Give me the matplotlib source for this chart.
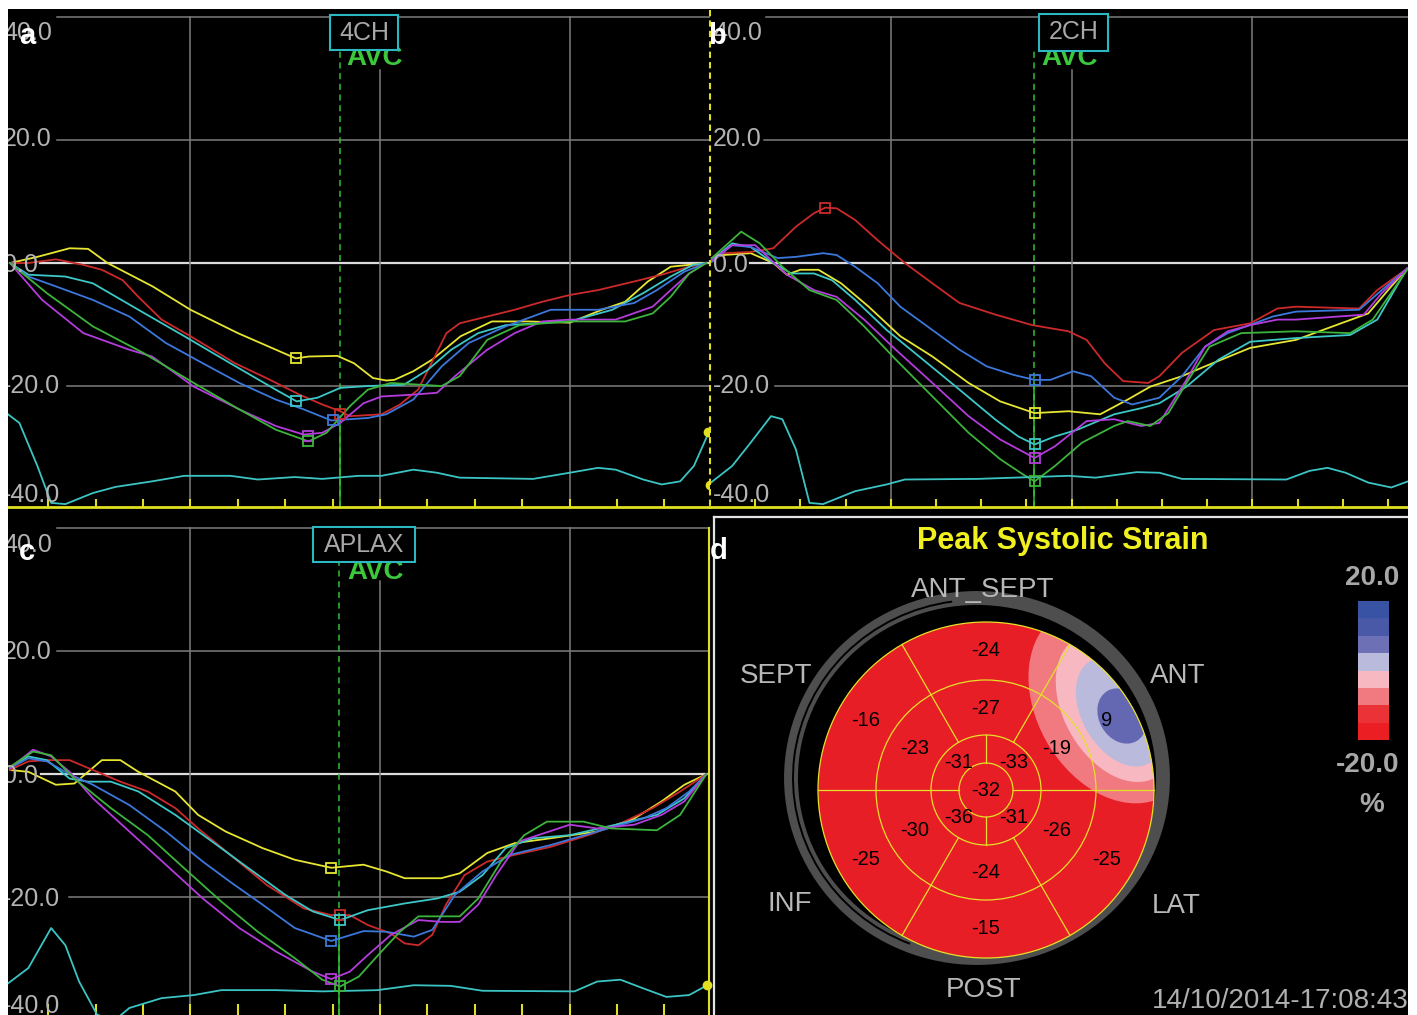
import numpy as np
import matplotlib
matplotlib.use("Agg")
import matplotlib.pyplot as plt
from matplotlib.patches import Rectangle, Circle, Ellipse, Arc
from matplotlib.lines import Line2D
from matplotlib.colors import ListedColormap, BoundaryNorm
from matplotlib.cm import ScalarMappable

plt.rcParams['font.family'] = ['Liberation Sans', 'DejaVu Sans']

W, H = 1417, 1015

# ---------------- panel a : 4CH (x in frame ticks, y in strain %) ----------------
a_yel_t = [0.19, 0.77, 1.45, 1.84, 2.25, 3.2, 4.0, 5.0, 6.22, 6.5, 7.1, 7.45, 7.85, 8.13, 8.3, 8.7, 9.1, 9.7, 10.36, 11.13, 12.0, 12.68, 13.17, 13.65, 14.13, 14.52, 14.88]
a_yel_v = [0.0, 1.0, 2.4, 2.3, 0.0, -3.8, -7.6, -11.4, -15.5, -15.2, -15.1, -16.3, -18.7, -19.1, -19.0, -17.6, -15.7, -11.9, -9.5, -9.5, -9.7, -7.6, -6.3, -3.0, -0.6, -0.3, 0.0]
a_red_t = [0.19, 0.58, 1.16, 1.74, 2.13, 2.57, 2.9, 3.39, 4.0, 4.94, 5.6, 6.3, 6.78, 7.16, 7.36, 8.03, 8.42, 8.8, 9.05, 9.4, 9.68, 10.26, 10.84, 11.42, 12.0, 12.6, 13.36, 13.94, 14.52, 14.88]
a_red_v = [0.0, 0.0, 0.6, -0.3, -1.1, -2.8, -5.5, -9.2, -11.9, -16.3, -18.7, -21.4, -23.0, -24.1, -24.9, -24.6, -23.0, -20.6, -16.8, -11.4, -9.8, -8.7, -7.6, -6.3, -5.2, -4.4, -3.0, -1.9, -0.6, 0.0]
a_cyn_t = [0.19, 0.58, 1.36, 1.94, 2.9, 3.87, 4.84, 5.8, 6.24, 6.68, 7.16, 7.74, 8.5, 9.0, 9.5, 10.07, 10.65, 11.33, 12.0, 12.9, 13.55, 14.13, 14.6, 14.88]
a_cyn_v = [0.0, -1.9, -2.2, -3.3, -7.6, -11.9, -16.3, -20.6, -22.5, -21.9, -20.3, -20.0, -19.8, -17.4, -14.1, -11.4, -10.1, -9.8, -9.5, -7.6, -4.9, -2.2, -0.3, 0.0]
a_blu_t = [0.19, 0.58, 1.16, 1.94, 2.71, 3.48, 4.26, 5.03, 5.8, 6.39, 6.97, 7.74, 8.13, 8.7, 9.3, 9.87, 10.65, 11.6, 12.6, 13.36, 13.84, 14.42, 14.88]
a_blu_v = [0.0, -2.2, -3.8, -6.0, -8.7, -13.0, -16.3, -19.5, -22.2, -23.8, -25.6, -25.2, -24.6, -22.2, -16.8, -13.0, -10.3, -7.6, -7.6, -6.5, -4.4, -1.4, 0.0]
a_mag_t = [0.19, 0.87, 1.74, 2.71, 3.19, 4.07, 5.03, 5.8, 6.39, 6.78, 7.16, 7.65, 8.03, 8.7, 9.2, 9.58, 10.26, 10.84, 11.42, 12.0, 12.97, 13.75, 14.13, 14.52, 14.88]
a_mag_v = [0.0, -6.0, -11.4, -14.1, -15.2, -20.1, -23.8, -26.5, -27.9, -27.6, -26.0, -22.8, -21.7, -21.4, -21.1, -18.4, -14.1, -11.4, -9.5, -9.2, -9.2, -7.1, -4.4, -1.7, 0.0]
a_grn_t = [0.19, 0.97, 1.94, 3.0, 4.07, 5.03, 5.8, 6.49, 6.87, 7.36, 7.74, 8.23, 9.3, 9.68, 10.26, 10.94, 12.0, 13.17, 13.75, 14.13, 14.52, 14.88]
a_grn_v = [0.0, -4.9, -10.3, -14.6, -19.5, -23.8, -27.1, -29.0, -27.6, -23.3, -20.6, -19.5, -20.0, -18.4, -12.5, -10.1, -9.5, -9.5, -8.2, -5.5, -1.7, 0.0]
a_ecg_t = [0.15, 0.39, 0.77, 1.06, 1.36, 1.94, 2.42, 3.19, 3.87, 4.84, 5.42, 6.2, 6.78, 7.55, 8.03, 8.7, 9.2, 9.68, 11.23, 12.0, 12.6, 12.97, 13.55, 13.94, 14.33, 14.62, 14.93]
a_ecg_v = [-24.6, -26.0, -33.0, -39.0, -39.2, -37.4, -36.4, -35.5, -34.6, -34.6, -35.2, -34.8, -35.1, -34.6, -34.6, -33.6, -34.1, -34.9, -35.1, -34.1, -33.3, -33.6, -35.2, -36.0, -35.5, -33.0, -27.6]
# peak markers: yellow, red, cyan, blue, magenta, green
a_peak_t = [6.22, 7.16, 6.22, 7.0, 6.47, 6.47]
a_peak_v = [-15.5, -24.6, -22.5, -25.6, -28.1, -29.0]

# ---------------- panel b : 2CH ----------------
b_yel_t = [0.04, 0.29, 0.9, 1.4, 1.7, 2.0, 2.4, 2.9, 3.51, 4.21, 4.92, 5.72, 6.42, 7.18, 7.93, 8.63, 9.24, 9.74, 10.44, 10.95, 11.95, 12.96, 13.96, 14.56, 15.07, 15.42]
b_yel_v = [0.8, 1.3, 1.6, 0.0, -1.9, -1.1, -1.1, -3.3, -7.1, -11.9, -15.2, -19.5, -22.5, -24.4, -24.1, -24.6, -22.2, -20.1, -18.4, -16.8, -13.8, -12.5, -9.8, -8.2, -3.8, -0.9]
b_red_t = [0.04, 0.29, 0.9, 1.4, 1.9, 2.3, 2.55, 2.8, 3.21, 3.71, 4.31, 4.92, 5.52, 6.32, 7.13, 7.93, 8.33, 8.73, 9.14, 9.69, 9.94, 10.44, 11.15, 11.95, 12.55, 12.96, 14.36, 14.76, 15.42]
b_red_v = [0.2, 1.6, 1.8, 2.4, 5.9, 8.1, 9.0, 8.9, 7.0, 3.7, 0.0, -3.3, -6.5, -8.4, -10.1, -11.1, -12.5, -16.3, -19.2, -19.5, -18.4, -14.6, -10.9, -9.8, -7.4, -7.1, -7.4, -4.4, -0.9]
b_cyn_t = [0.04, 0.49, 0.9, 1.4, 1.8, 2.3, 2.7, 3.21, 3.91, 4.71, 5.52, 6.32, 6.82, 7.18, 7.63, 8.13, 8.94, 9.54, 9.94, 10.54, 11.25, 11.95, 12.96, 14.16, 14.76, 15.42]
b_cyn_v = [0.5, 3.2, 2.6, 0.0, -1.7, -1.7, -2.8, -6.0, -10.9, -15.7, -20.6, -25.5, -28.2, -29.5, -28.2, -27.1, -24.6, -23.6, -22.8, -20.1, -15.7, -12.8, -12.2, -11.7, -9.2, -0.9]
b_blu_t = [0.04, 0.49, 0.9, 1.5, 1.9, 2.5, 2.8, 3.21, 3.71, 4.21, 4.92, 5.52, 6.12, 6.72, 7.18, 7.53, 8.03, 8.43, 8.94, 9.34, 9.94, 10.44, 10.95, 11.45, 12.45, 12.96, 14.36, 14.86, 15.42]
b_blu_v = [0.2, 2.9, 2.6, 0.8, 1.0, 1.6, 1.3, -0.6, -3.3, -7.1, -10.9, -14.1, -16.8, -18.2, -19.0, -19.0, -17.6, -18.4, -21.9, -23.0, -21.9, -18.4, -13.6, -11.4, -8.7, -7.9, -7.6, -4.4, -0.9]
b_mag_t = [0.04, 0.49, 1.0, 1.7, 2.3, 2.8, 3.41, 4.11, 4.92, 5.72, 6.42, 7.18, 7.63, 8.33, 8.94, 9.54, 9.94, 10.54, 10.95, 11.45, 11.95, 12.55, 12.96, 14.46, 14.86, 15.42]
b_mag_v = [0.5, 2.9, 2.9, -1.9, -4.4, -5.5, -9.2, -14.1, -19.5, -24.9, -28.7, -31.7, -29.8, -25.7, -25.4, -26.5, -26.0, -19.0, -13.6, -11.1, -10.1, -9.2, -9.2, -8.4, -4.9, -0.9]
b_grn_t = [0.04, 0.69, 1.1, 1.6, 2.2, 2.8, 3.41, 4.11, 4.92, 5.72, 6.42, 6.93, 7.18, 7.63, 8.23, 8.94, 9.24, 9.74, 10.14, 10.54, 11.05, 11.75, 12.96, 14.16, 14.66, 15.42]
b_grn_v = [0.8, 5.1, 3.2, -0.6, -4.4, -6.0, -10.3, -15.7, -21.7, -27.6, -31.9, -34.4, -35.5, -33.0, -29.2, -26.5, -25.7, -26.5, -24.4, -19.5, -13.6, -11.4, -11.1, -11.4, -9.2, -1.1]
b_ecg_t = [0.02, 0.49, 0.9, 1.35, 1.6, 1.9, 2.2, 2.5, 3.21, 3.91, 4.31, 5.92, 7.93, 8.53, 9.44, 9.94, 10.44, 12.75, 13.26, 13.66, 14.06, 14.56, 15.07, 15.44]
b_ecg_v = [-35.7, -33.0, -29.2, -24.9, -25.4, -30.3, -39.0, -39.2, -37.1, -36.0, -35.2, -35.1, -34.6, -34.9, -34.0, -34.1, -35.1, -35.2, -33.8, -33.3, -34.1, -35.7, -36.5, -35.5]
b_peak_t = [7.18, 2.55, 7.18, 7.18, 7.18, 7.18]
b_peak_v = [-24.4, 9.0, -29.5, -19.0, -31.7, -35.5]

# ---------------- panel c : APLAX ----------------
c_yel_t = [0.19, 0.58, 1.16, 1.55, 2.13, 2.52, 2.9, 3.68, 4.16, 4.74, 5.52, 6.2, 6.97, 7.65, 8.13, 8.52, 9.29, 9.68, 10.26, 10.84, 11.6, 12.58, 13.36, 13.94, 14.42, 14.88]
c_yel_v = [0.7, 0.4, -1.7, -1.5, 2.3, 2.3, 0.4, -2.8, -6.6, -9.3, -12.0, -13.9, -15.2, -14.7, -15.8, -16.9, -16.9, -16.1, -12.8, -11.2, -10.4, -9.3, -7.2, -4.4, -1.7, 0.0]
c_red_t = [0.19, 0.58, 0.97, 1.45, 1.94, 2.52, 3.1, 3.68, 4.16, 4.84, 5.61, 6.39, 6.97, 7.36, 7.74, 8.23, 8.52, 8.81, 9.1, 9.39, 9.78, 10.26, 10.84, 11.6, 12.39, 13.07, 13.75, 14.33, 14.88]
c_red_v = [0.7, 2.1, 2.3, 2.3, 0.7, -1.2, -2.8, -5.5, -8.8, -13.1, -18.0, -21.8, -22.9, -22.9, -24.5, -25.9, -27.5, -27.8, -26.1, -21.2, -16.4, -14.2, -13.1, -11.8, -9.9, -8.0, -5.5, -2.8, 0.0]
c_cyn_t = [0.19, 0.58, 0.97, 1.45, 1.84, 2.32, 2.9, 3.68, 4.45, 5.23, 6.0, 6.58, 7.16, 7.74, 8.52, 9.2, 9.68, 10.16, 10.65, 11.23, 12.0, 12.97, 13.84, 14.42, 14.88]
c_cyn_v = [1.0, 2.9, 2.3, -0.7, -1.2, -1.2, -2.8, -6.6, -10.9, -15.3, -19.6, -22.3, -23.7, -22.1, -21.0, -20.2, -19.1, -16.4, -12.0, -10.4, -9.9, -8.2, -6.6, -3.9, 0.0]
c_blu_t = [0.19, 0.58, 0.97, 1.45, 1.94, 2.71, 3.48, 4.26, 4.84, 5.52, 6.2, 6.97, 7.65, 8.13, 8.71, 9.1, 9.58, 10.16, 10.74, 11.6, 12.58, 13.55, 14.04, 14.52, 14.88]
c_blu_v = [1.0, 2.6, 2.1, 0.0, -1.7, -5.0, -9.3, -14.2, -17.5, -21.2, -25.0, -27.1, -25.5, -25.6, -26.4, -25.3, -19.6, -15.8, -13.1, -11.5, -9.3, -7.2, -5.5, -2.8, 0.0]
c_mag_t = [0.19, 0.68, 1.06, 1.45, 1.94, 2.71, 3.48, 4.26, 5.03, 5.8, 6.58, 6.97, 7.36, 7.74, 8.23, 8.81, 9.29, 9.68, 10.07, 10.45, 10.94, 12.0, 12.58, 13.36, 13.94, 14.42, 14.88]
c_mag_v = [1.0, 4.0, 2.9, 0.4, -3.9, -9.3, -14.7, -20.2, -25.0, -28.8, -32.1, -33.3, -32.1, -29.4, -26.1, -23.7, -24.0, -24.0, -21.2, -16.4, -10.9, -8.2, -8.8, -8.2, -6.6, -4.4, 0.0]
c_grn_t = [0.19, 0.68, 1.06, 1.55, 2.32, 3.1, 3.87, 4.65, 5.42, 6.2, 6.78, 7.16, 7.55, 8.03, 8.42, 8.81, 9.68, 10.07, 10.55, 11.04, 11.52, 12.29, 12.87, 13.84, 14.33, 14.88]
c_grn_v = [1.2, 3.7, 3.1, -0.7, -5.5, -9.9, -15.3, -20.7, -25.6, -29.9, -33.4, -34.5, -32.9, -28.8, -25.6, -23.1, -23.1, -20.2, -14.2, -9.9, -7.7, -7.7, -8.8, -9.1, -6.6, 0.0]
c_ecg_t = [0.15, 0.58, 1.06, 1.36, 1.65, 2.03, 2.4, 2.71, 3.39, 4.07, 4.65, 5.8, 6.78, 7.94, 8.71, 9.49, 10.16, 12.1, 12.58, 13.07, 13.55, 14.04, 14.52, 14.9]
c_ecg_v = [-34.0, -31.5, -25.0, -27.8, -33.7, -39.1, -40.0, -38.0, -36.4, -35.9, -35.1, -35.1, -35.3, -35.1, -34.3, -34.4, -35.2, -35.3, -33.7, -33.4, -34.8, -36.2, -35.9, -34.3]
c_peak_t = [6.97, 7.16, 7.16, 6.97, 6.97, 7.16]
c_peak_v = [-15.2, -22.9, -23.7, -27.1, -33.3, -34.5]

# ---------------- panel d : bull's eye ----------------
basal_vals = [9, -24, -16, -25, -15, -25]      # ANT, ANT_SEPT, SEPT, INF, POST, LAT
mid_vals = [-19, -27, -23, -30, -24, -26]
apical_vals = [-33, -31, -36, -31]
apex_val = -32
cbar_levels = [-20, -15, -10, -5, 0, 5, 10, 15, 20]
cbar_colors = ['#eb1e24', '#eb3236', '#f07a80', '#f8b8c2', '#babadc', '#6e70b6', '#4a58a8', '#3852a4']

YEL, RED, CYN, BLU, MAG, GRN = '#e6e632', '#cc2a2a', '#3cc8c8', '#3c78dc', '#b43cdc', '#3cb43c'
SEG_COLORS = [YEL, RED, CYN, BLU, MAG, GRN]
ECG_C = '#3cc4c4'
GRID_C = '#7c7c7c'
LAB_C = '#b4b4b4'
AX_YEL = '#e0e020'
AVC_C = '#30c030'

fig = plt.figure(figsize=(W / 100, H / 100), dpi=100, facecolor='black')


def px_axes(x0, y0, x1, y1):
    return fig.add_axes([x0 / W, 1 - y1 / H, (x1 - x0) / W, (y1 - y0) / H])


def strain_panel(ax, xlim, ylim, curves, ecg, peak_t, peak_v, nticks, avc_t, avc_solid, view, box,
                 avc_xy, grid_start, lab_x, lab_base, bottom_line, tick_len):
    ax.set_facecolor('black')
    ax.set_xlim(*xlim)
    ax.set_ylim(*ylim)
    for s in ax.spines.values():
        s.set_visible(False)
    if bottom_line:
        ax.spines['bottom'].set_visible(True)
        ax.spines['bottom'].set_color(AX_YEL)
        ax.spines['bottom'].set_linewidth(2)
    ax.set_xticks(range(1, nticks + 1))
    ax.set_xticklabels([])
    ax.set_yticks([])
    ax.tick_params(axis='x', direction='in', length=tick_len, width=1.5, color=AX_YEL)

    for v, t0 in zip([40, 20, -20], grid_start[:3]):
        ax.plot([t0, xlim[1]], [v, v], color=GRID_C, lw=1.1, zorder=1)
    ax.plot([grid_start[3], xlim[1]], [0, 0], color='#dcdcdc', lw=1.6, zorder=1)
    for g in (4, 8, 12):
        top = 31.4 if g == 8 else 40
        ax.plot([g, g], [ylim[0], top], color=GRID_C, lw=1.1, zorder=1)

    ax.plot([avc_t, avc_t], [ylim[0], 34.4], color=AVC_C, lw=1.1, ls=(0, (4, 3)), zorder=2)
    ax.plot([avc_t, avc_t], [ylim[0], avc_solid], color=AVC_C, lw=1.1, zorder=2)

    for (t, v), c in zip(curves, SEG_COLORS):
        ax.plot(t, v, color=c, lw=1.3, zorder=3)
    ax.plot(ecg[0], ecg[1], color=ECG_C, lw=1.3, zorder=3)
    for t, v, c in zip(peak_t, peak_v, SEG_COLORS):
        ax.plot([t], [v], ls='none', marker='s', ms=7.5, mfc='none', mec=c, mew=1.3, zorder=4)

    for txt, vb in zip(['40.0', '20.0', '0.0', '-20.0', '-40.0'], lab_base):
        ax.text(lab_x, vb, txt, color=LAB_C, fontsize=18, va='baseline', ha='left', zorder=5, clip_on=True)

    ax.text(avc_xy[0], avc_xy[1], 'AVC', color='#3cc83c', fontsize=20, fontweight='bold',
            va='baseline', ha='left', zorder=5)
    ax.add_patch(Rectangle((box[0], box[2]), box[1] - box[0], box[3] - box[2], fc='black',
                           ec='#2cb8c0', lw=1.5, zorder=6))
    ax.text((box[0] + box[1]) / 2, (box[2] + box[3]) / 2, view, color='#a8a8a8', fontsize=18,
            ha='center', va='center', zorder=7)


# panel a
ax_a = px_axes(8, 10, 710, 507)
strain_panel(ax_a, (0.15, 14.96), (-39.67, 41.14),
             [(a_yel_t, a_yel_v), (a_red_t, a_red_v), (a_cyn_t, a_cyn_v), (a_blu_t, a_blu_v),
              (a_mag_t, a_mag_v), (a_grn_t, a_grn_v)],
             (a_ecg_t, a_ecg_v), a_peak_t, a_peak_v, 14, 7.15, -25.6, '4CH',
             (6.94, 8.38, 34.6, 40.3), (7.28, 32.2), (1.18, 1.19, 1.39, 0.82), 0.044,
             [36.3, 19.0, -1.5, -21.1, -38.9], True, 6)
ax_a.plot([14.92, 14.95], [-27.5, -36.1], ls='none', marker='o', ms=6, color=AX_YEL, clip_on=False, zorder=8)

# panel b
ax_b = px_axes(710, 10, 1408, 507)
strain_panel(ax_b, (0, 15.44), (-39.67, 41.14),
             [(b_yel_t, b_yel_v), (b_red_t, b_red_v), (b_cyn_t, b_cyn_v), (b_blu_t, b_blu_v),
              (b_mag_t, b_mag_v), (b_grn_t, b_grn_v)],
             (b_ecg_t, b_ecg_v), b_peak_t, b_peak_v, 15, 7.17, -19.0, '2CH',
             (7.28, 8.81, 34.5, 40.5), (7.33, 32.2), (1.24, 1.2, 1.44, 0.88), 0.066,
             [36.3, 19.0, -1.5, -21.1, -38.9], True, 6)

# panel c
ax_c = px_axes(8, 515, 710, 1015)
strain_panel(ax_c, (0.15, 14.96), (-39.14, 42.16),
             [(c_yel_t, c_yel_v), (c_red_t, c_red_v), (c_cyn_t, c_cyn_v), (c_blu_t, c_blu_v),
              (c_mag_t, c_mag_v), (c_grn_t, c_grn_v)],
             (c_ecg_t, c_ecg_v), c_peak_t, c_peak_v, 14, 7.13, -22.9, 'APLAX',
             (6.58, 8.74, 34.5, 40.2), (7.3, 31.8), (1.19, 1.19, 1.43, 0.85), 0.044,
             [36.1, 18.8, -1.4, -21.4, -38.8], False, 8)
ax_c.plot([14.9], [-34.3], ls='none', marker='o', ms=6, color=AX_YEL, clip_on=False, zorder=8)

# panel d : bull's eye (axes in pixel units)
ax_d = px_axes(716, 519, 1408, 1015)
ax_d.set_xlim(716, 1408)
ax_d.set_ylim(1015, 519)
ax_d.axis('off')

cx, cy = 986, 790
radii = [27, 55, 110, 168]
ax_d.add_patch(Ellipse((977, 778), 372, 360, fill=False, ec='#4e4e4e', lw=10, zorder=1))
# thin dark split in the ring on the septal side
ax_d.add_patch(Arc((977, 778), 368, 356, theta1=112, theta2=262, ec='black', lw=1.4, zorder=1.5))
disc = Circle((cx, cy), radii[3], fc='#e81e26', ec='none', zorder=2)
ax_d.add_patch(disc)
blob = [((1112, 705), 210, 150, '#f07a80'), ((1116, 708), 160, 104, '#f8b8c2'),
        ((1120, 712), 118, 76, '#babadc'), ((1122, 716), 58, 46, '#6468b2')]
for c, w, h, col in blob:
    e = Ellipse(c, w, h, angle=60, fc=col, ec='none', zorder=3)
    ax_d.add_patch(e)
    e.set_clip_path(disc)

SEG_LINE = '#e6e028'
for r in radii:
    ax_d.add_patch(Circle((cx, cy), r, fill=False, ec=SEG_LINE, lw=0.9, zorder=4))
for ang in range(0, 360, 60):
    r0 = radii[0] if ang in (0, 180) else radii[1]
    a = np.deg2rad(ang)
    ax_d.plot([cx + r0 * np.cos(a), cx + radii[3] * np.cos(a)],
              [cy - r0 * np.sin(a), cy - radii[3] * np.sin(a)], color=SEG_LINE, lw=0.9, zorder=4)
for ang in (90, 270):
    a = np.deg2rad(ang)
    ax_d.plot([cx, cx], [cy - radii[0] * np.sin(a), cy - radii[1] * np.sin(a)], color=SEG_LINE, lw=0.9, zorder=4)

for vals, r, angs in [(basal_vals, 139, [30, 90, 150, 210, 270, 330]),
                      (mid_vals, 82, [30, 90, 150, 210, 270, 330]),
                      (apical_vals, 39, [45, 135, 225, 315])]:
    for val, ang in zip(vals, angs):
        a = np.deg2rad(ang)
        ax_d.text(cx + r * np.cos(a), cy - r * np.sin(a), str(val), fontsize=14.5, color='black',
                  ha='center', va='center', zorder=5)
ax_d.text(cx, cy, str(apex_val), fontsize=14.5, color='black', ha='center', va='center', zorder=5)

for txt, x, y in [('ANT_SEPT', 983, 590), ('SEPT', 776, 676), ('ANT', 1178, 676), ('INF', 790, 904),
                  ('LAT', 1176, 906), ('POST', 984, 990)]:
    ax_d.text(x, y, txt, fontsize=20, color='#b8b8b8', ha='center', va='center', zorder=6)
ax_d.text(1063, 541, 'Peak Systolic Strain', fontsize=22, fontweight='bold', color='#f0f020',
          ha='center', va='center', zorder=6)
ax_d.text(1152, 1001, '14/10/2014-17:08:43', fontsize=20, color='#b0b0b0', ha='left', va='center', zorder=6)
ax_d.text(1372, 578, '20.0', fontsize=20, fontweight='bold', color='#a8a8a8', ha='center', va='center')
ax_d.text(1368, 765, '-20.0', fontsize=20, fontweight='bold', color='#a8a8a8', ha='center', va='center')
ax_d.text(1372, 805, '%', fontsize=20, fontweight='bold', color='#a8a8a8', ha='center', va='center')

cax = px_axes(1358, 601, 1389, 740)
cmap = ListedColormap(cbar_colors)
norm = BoundaryNorm(cbar_levels, cmap.N)
cb = fig.colorbar(ScalarMappable(norm=norm, cmap=cmap), cax=cax, ticks=[])
cb.outline.set_visible(False)

# frame lines, panel letters and white margins
fig.add_artist(Line2D([710 / W, 710 / W], [1 - 10 / H, 1 - 507 / H], color=AX_YEL, lw=1.5,
                      ls=(0, (3, 2)), zorder=15))
fig.add_artist(Line2D([709 / W, 709 / W], [1 - 528 / H, 0], color=AX_YEL, lw=1.5, zorder=15))
fig.add_artist(Line2D([714 / W, 714 / W], [1 - 517 / H, 0], color='#e4e4e4', lw=1.6, zorder=15))
fig.add_artist(Line2D([714 / W, 1], [1 - 517 / H, 1 - 517 / H], color='#e4e4e4', lw=1.6, zorder=15))

for letter, x, y in [('a', 27, 36), ('b', 717, 36), ('c', 27, 552), ('d', 719, 551)]:
    fig.text(x / W, 1 - y / H, letter, color='white', fontsize=21, fontweight='bold',
             ha='center', va='center', zorder=20)

fig.add_artist(Rectangle((0, 1 - 9 / H), 1, 9 / H, transform=fig.transFigure, fc='white', ec='none', zorder=30))
fig.add_artist(Rectangle((0, 0), 8 / W, 1, transform=fig.transFigure, fc='white', ec='none', zorder=30))
fig.add_artist(Rectangle((1408 / W, 0), 9 / W, 1, transform=fig.transFigure, fc='white', ec='none', zorder=30))

fig.savefig('out.png', dpi=100, facecolor='black')
